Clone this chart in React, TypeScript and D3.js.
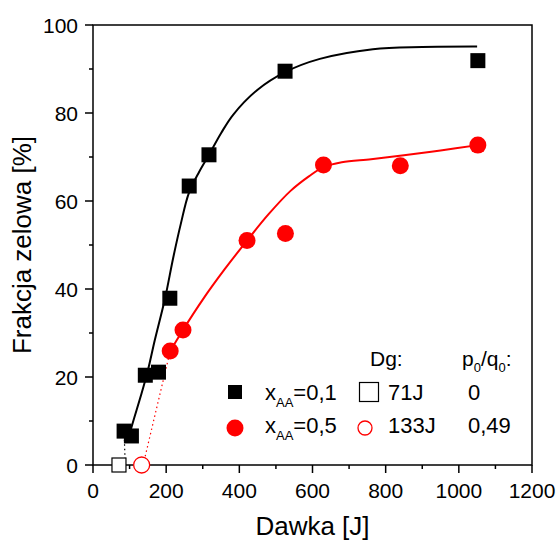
import React from "react";
import * as d3 from "d3";

// ---- data ----
const xTicks = [0, 200, 400, 600, 800, 1000, 1200];
const xMinorTicks = [100, 300, 500, 700, 900, 1100];
const yTicks = [0, 20, 40, 60, 80, 100];
const yMinorTicks = [10, 30, 50, 70, 90];

// x_AA = 0,1 (black squares)
const blackDose = [85, 105, 143, 179, 210, 263, 317, 525, 1052];
const blackFrac = [7.7, 6.6, 20.4, 21.1, 37.9, 63.4, 70.5, 89.5, 91.9];
// x_AA = 0,5 (red circles)
const redDose = [211, 246, 421, 526, 630, 840, 1052];
const redFrac = [25.9, 30.7, 51.0, 52.6, 68.2, 68.0, 72.7];
// Dg (gel dose) markers
const dgBlack = 71;
const dgRed = 133;

// fitted curves
const fitBlackDose = [96, 105, 130, 150, 169, 197, 219, 240, 262, 290, 317, 350, 383, 450, 525, 620, 765, 900, 1050];
const fitBlackFrac = [5.4, 8.5, 15.5, 21.5, 28.4, 37.9, 47.0, 54.8, 61.8, 66.6, 70.5, 75.4, 79.6, 85.3, 89.3, 92.3, 94.5, 95.0, 95.1];
const fitRedDose = [211, 246, 300, 360, 421, 480, 540, 590, 630, 680, 760, 850, 950, 1052];
const fitRedFrac = [25.9, 30.7, 37.6, 44.5, 51.0, 57.0, 62.3, 65.6, 67.7, 68.8, 69.5, 70.4, 71.5, 72.7];
// dotted extrapolations to Dg
const dotBlackDose = [88, 85];
const dotBlackFrac = [0.3, 7.7];
const dotRedDose = [137, 211];
const dotRedFrac = [0, 25.9];

const FONT = "'Liberation Sans', Arial, sans-serif";

export default function App() {
  const x = d3.scaleLinear().domain([0, 1200]).range([93, 532]);
  const y = d3.scaleLinear().domain([0, 100]).range([465, 25]);

  const line = d3
    .line<[number, number]>()
    .x((d) => x(d[0]))
    .y((d) => y(d[1]))
    .curve(d3.curveCatmullRom.alpha(0.5));
  const straight = d3
    .line<[number, number]>()
    .x((d) => x(d[0]))
    .y((d) => y(d[1]));

  const zip = (a: number[], b: number[]) => a.map((v, i) => [v, b[i]] as [number, number]);

  const x0 = x(0), x1 = x(1200), y0 = y(0), y1 = y(100);

  return (
    <svg
      width={560}
      height={543}
      style={{ position: "absolute", left: 0, top: 0, display: "block", background: "#fff" }}
      fontFamily={FONT}
    >
      <rect x={0} y={0} width={560} height={543} fill="#fff" />
      {/* frame */}
      <rect x={x0} y={y1} width={x1 - x0} height={y0 - y1} fill="none" stroke="#000" strokeWidth={1.5} />
      {/* x ticks */}
      {xTicks.map((t) => (
        <g key={"xt" + t}>
          <line x1={x(t)} x2={x(t)} y1={y0} y2={y0 + 8} stroke="#000" strokeWidth={1.5} />
          <text x={x(t)} y={498} fontSize={21} textAnchor="middle">
            {t}
          </text>
        </g>
      ))}
      {xMinorTicks.map((t) => (
        <line key={"xm" + t} x1={x(t)} x2={x(t)} y1={y0} y2={y0 + 4} stroke="#000" strokeWidth={1.5} />
      ))}
      {yTicks.map((t) => (
        <g key={"yt" + t}>
          <line x1={x0 - 8} x2={x0} y1={y(t)} y2={y(t)} stroke="#000" strokeWidth={1.5} />
          <text x={78} y={y(t)} dy="0.36em" fontSize={21} textAnchor="end">
            {t}
          </text>
        </g>
      ))}
      {yMinorTicks.map((t) => (
        <line key={"ym" + t} x1={x0 - 4} x2={x0} y1={y(t)} y2={y(t)} stroke="#000" strokeWidth={1.5} />
      ))}
      {/* axis titles */}
      <text x={(x0 + x1) / 2} y={535} fontSize={26} textAnchor="middle">
        Dawka [J]
      </text>
      <text transform={`translate(31,245) rotate(-90)`} fontSize={26} textAnchor="middle">
        Frakcja zelowa [%]
      </text>

      {/* dotted extrapolations */}
      <path d={straight(zip(dotBlackDose, dotBlackFrac)) || ""} fill="none" stroke="#000" strokeWidth={1.2} strokeDasharray="1.5,3" />
      <path d={straight(zip(dotRedDose, dotRedFrac)) || ""} fill="none" stroke="#f00" strokeWidth={1.2} strokeDasharray="1.5,3" />

      {/* fits */}
      <path d={line(zip(fitBlackDose, fitBlackFrac)) || ""} fill="none" stroke="#000" strokeWidth={2} />
      <path d={line(zip(fitRedDose, fitRedFrac)) || ""} fill="none" stroke="#f00" strokeWidth={2} />

      {/* Dg markers */}
      <rect x={x(dgBlack) - 7} y={y(0) - 7} width={14} height={14} fill="#fff" stroke="#000" strokeWidth={1.2} />
      <circle cx={x(dgRed)} cy={y(0)} r={8} fill="#fff" stroke="#f00" strokeWidth={1.3} />

      {/* data */}
      {blackDose.map((d, i) => (
        <rect key={"b" + i} x={x(d) - 7.5} y={y(blackFrac[i]) - 7.5} width={15} height={15} fill="#000" />
      ))}
      {redDose.map((d, i) => (
        <circle key={"r" + i} cx={x(d)} cy={y(redFrac[i])} r={8.5} fill="#f00" />
      ))}

      {/* legend */}
      <text x={370} y={366} fontSize={21}>Dg:</text>
      <text x={462} y={366} fontSize={21}>
        p<tspan fontSize={13} dy={6}>0</tspan>
        <tspan dy={-6}>/q</tspan>
        <tspan fontSize={13} dy={6}>0</tspan>
        <tspan dy={-6}>:</tspan>
      </text>

      <rect x={228} y={385} width={14} height={14} fill="#000" />
      <text x={265} y={400} fontSize={22}>
        x<tspan fontSize={13} dy={7}>AA</tspan>
        <tspan dy={-7}>=0,1</tspan>
      </text>
      <rect x={359.5} y={382.5} width={19} height={19} fill="#fff" stroke="#000" strokeWidth={1.2} />
      <text x={388} y={400} fontSize={22}>71J</text>
      <text x={468} y={400} fontSize={22}>0</text>

      <circle cx={235} cy={428} r={8.5} fill="#f00" />
      <text x={265} y={433} fontSize={22}>
        x<tspan fontSize={13} dy={7}>AA</tspan>
        <tspan dy={-7}>=0,5</tspan>
      </text>
      <circle cx={365} cy={428} r={7} fill="#fff" stroke="#f00" strokeWidth={1.3} />
      <text x={388} y={433} fontSize={22}>133J</text>
      <text x={468} y={433} fontSize={22}>0,49</text>
    </svg>
  );
}
